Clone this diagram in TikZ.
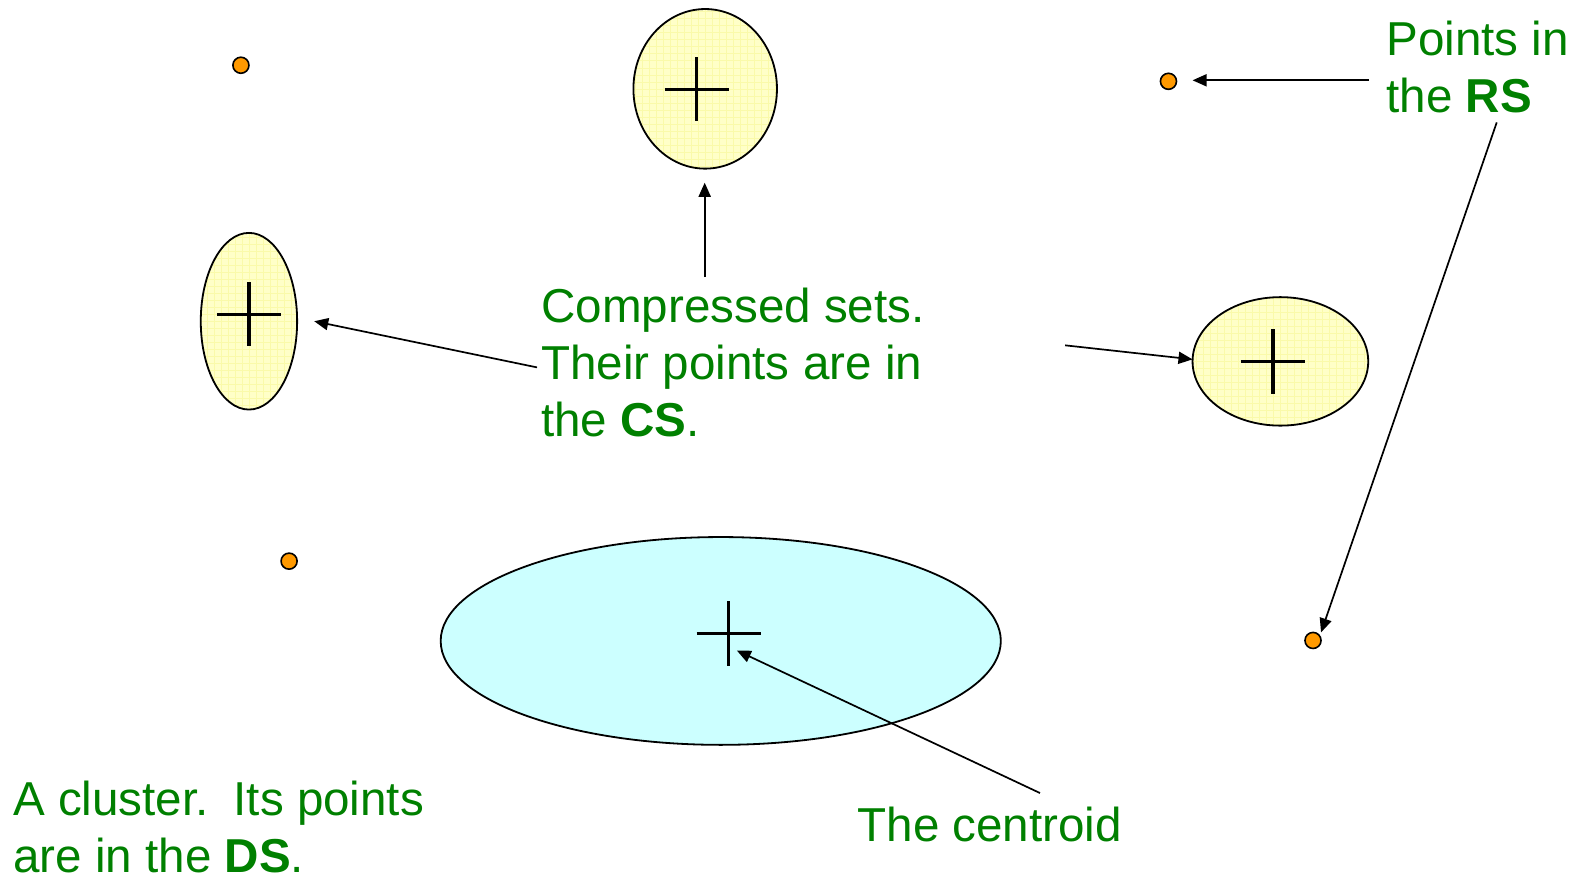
\documentclass[tikz,border=0pt]{standalone}
\usepackage{fontspec}
\setmainfont{Liberation Sans}
\usetikzlibrary{shapes.geometric,arrows.meta}
\definecolor{txtgreen}{RGB}{0,128,0}
\definecolor{setyellow}{RGB}{255,255,200}
\definecolor{gridyellow}{RGB}{250,250,170}
\definecolor{clustcyan}{RGB}{204,255,255}
\definecolor{dotorange}{RGB}{255,153,0}
\begin{document}
\begin{tikzpicture}[x=1bp,y=-1bp,
  setshape/.style={ellipse, draw=black, line width=1.8bp, fill=setyellow, inner sep=0pt,
    path picture={\draw[gridyellow, line width=0.5bp, step=7bp]
      (path picture bounding box.south west) grid (path picture bounding box.north east);}},
  clustshape/.style={ellipse, draw=black, line width=1.8bp, fill=clustcyan, inner sep=0pt},
  crossmark/.style={line width=3.3bp, black},
  ptdot/.style={circle, draw=black, line width=1.6bp, fill=dotorange, minimum size=16bp, inner sep=0pt},
  lbl/.style={text=txtgreen, inner sep=0pt, align=left, anchor=base west,
    font=\fontsize{47.4bp}{57bp}\selectfont},
  pointer/.style={line width=1.7bp, -{Triangle[length=14bp,width=12bp]}}]
\useasboundingbox (0,0) rectangle (1568,876);

% compressed sets
\node[setshape, minimum width=143bp, minimum height=159bp] (s1) at (702.5,88.5) {};
\node[setshape, minimum width=96bp, minimum height=176bp] (s2) at (248,320) {};
\node[setshape, minimum width=175bp, minimum height=128bp] (s3) at (1275.5,360) {};
% cluster
\node[clustshape, minimum width=558bp, minimum height=207bp] (cl) at (718,638.5) {};

% crosses
\draw[crossmark] (662,89) -- (726,89) (694,57) -- (694,121);
\draw[crossmark] (216,313) -- (280,313) (248,281) -- (248,345);
\draw[crossmark] (1236,360) -- (1300,360) (1268,328) -- (1268,392);
\draw[crossmark] (694,631) -- (758,631) (726,599) -- (726,663);

% retained points
\node[ptdot] (p1) at (240,65) {};
\node[ptdot] (p2) at (1164,81) {};
\node[ptdot] (p3) at (288,559) {};
\node[ptdot] (p4) at (1308,638) {};

% labels (anchored at the baseline of the last line)
\node[lbl] (cs) at (539,435) {Compressed sets.\\Their points are in\\the \textbf{CS}.};
\node[lbl] (rs) at (1381,112) {Points in\\the \textbf{RS}};
\node[lbl] (ds) at (13,869) {A cluster.\hspace{7bp} Its points\\are in the \textbf{DS}.};
\node[lbl] (cen) at (854,838) {The centroid};

% connector coordinates
\coordinate (csup) at (702,276);
\coordinate (s1end) at (702,182);
\coordinate (csleft) at (535,366);
\coordinate (s2end) at (313,320);
\coordinate (csright) at (1061,344);
\coordinate (s3end) at (1188,358);
\coordinate (rsleft) at (1364,80);
\coordinate (p2end) at (1188,80);
\coordinate (rsdown) at (1491,122);
\coordinate (p4end) at (1316,630);
\coordinate (censtart) at (1036,790);
\coordinate (cenend) at (734,648);

\draw[pointer] (csup) -- (s1end);
\draw[pointer] (csleft) -- (s2end);
\draw[pointer] (csright) -- (s3end);
\draw[pointer] (rsleft) -- (p2end);
\draw[pointer] (rsdown) -- (p4end);
\draw[pointer] (censtart) -- (cenend);
\end{tikzpicture}
\end{document}
